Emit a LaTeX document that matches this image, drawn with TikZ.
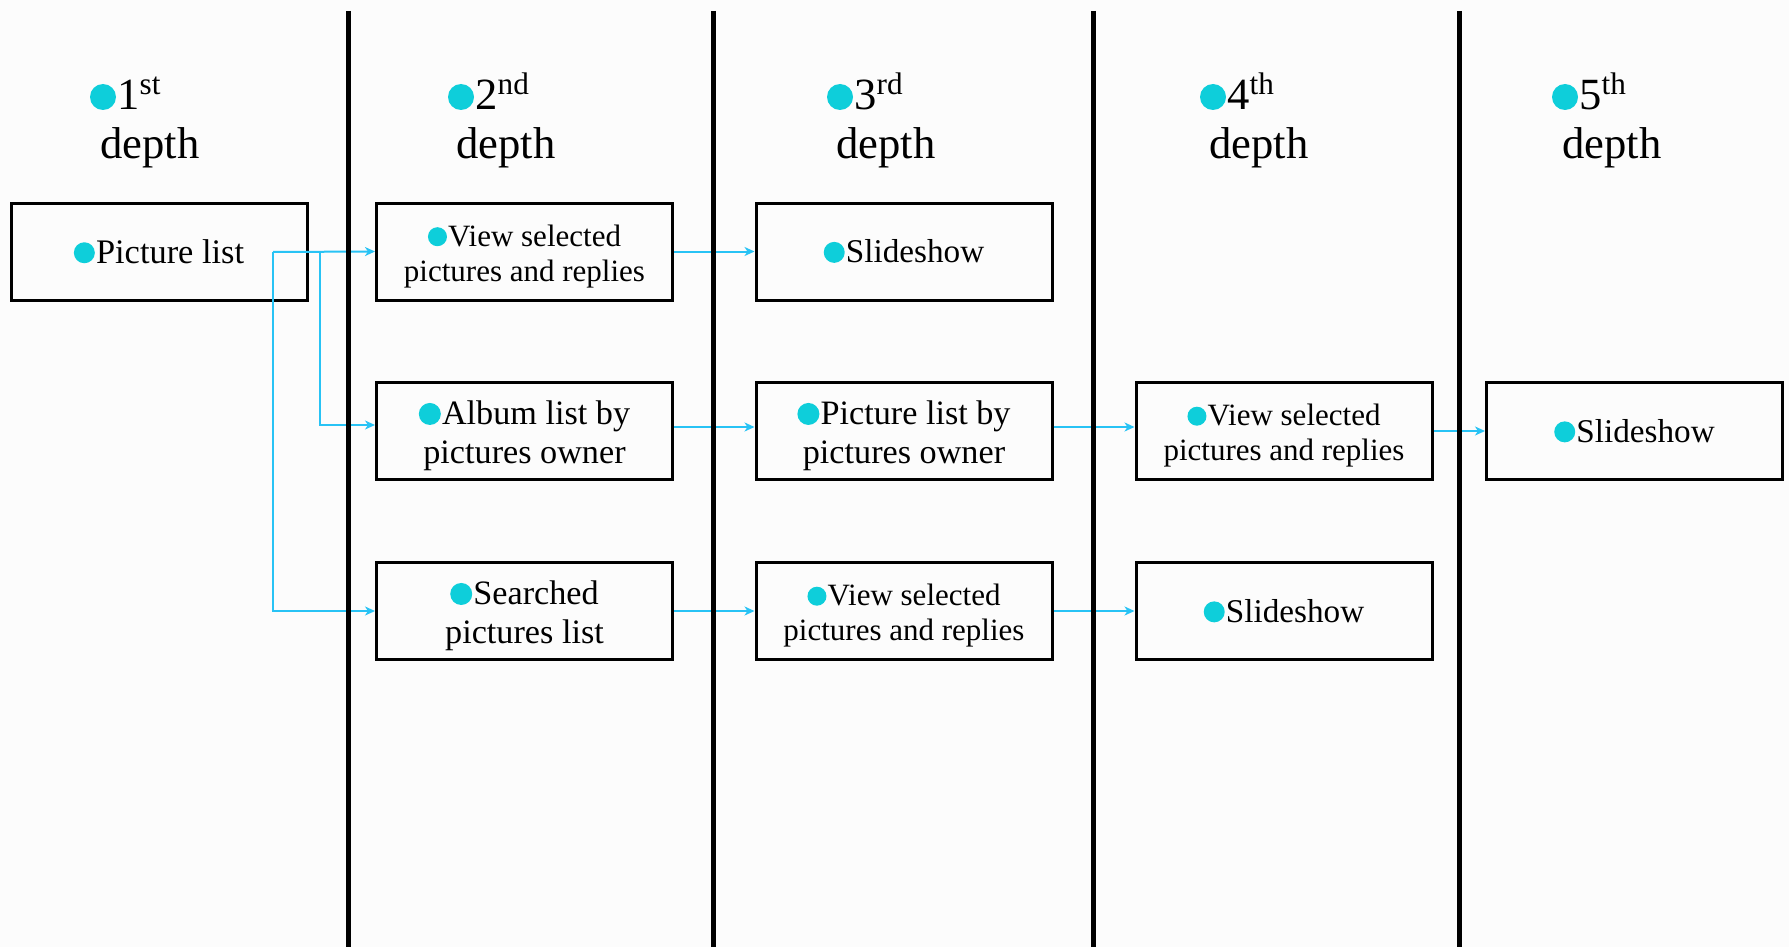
\documentclass[tikz,border=0pt]{standalone}
\usepackage{fontspec}
\setmainfont{Liberation Serif}
\usetikzlibrary{arrows.meta}
\definecolor{bulc}{RGB}{14,206,218}
\definecolor{arrc}{RGB}{40,195,245}
\definecolor{bgc}{RGB}{252,252,252}
\newcommand{\bul}[1]{\tikz[baseline=0pt]\fill[bulc](0pt,#1)circle[radius=#1];\hspace{0.6pt}}
\newcommand{\tstrut}{\rule{0pt}{1em}}
\begin{document}
\begin{tikzpicture}[x=0.5pt,y=-0.5pt,
  box/.style={draw=black,line width=1.5pt,minimum width=148pt,minimum height=48.5pt,align=center,inner sep=0pt},
  sm/.style={font=\fontsize{15.5}{17.5}\selectfont},
  bg/.style={font=\fontsize{17.1}{19.5}\selectfont},
  md/.style={font=\fontsize{16.6}{19}\selectfont},
  arr/.style={draw=arrc,line width=1pt,-{Stealth[length=5pt,width=4.5pt,inset=1.5pt]}},
  sep/.style={line width=2.5pt,black},
  hd/.style={font=\fontsize{22.3}{26}\selectfont,inner sep=0pt},
  hb/.style={fill=bulc}]
\fill[bgc] (0,0) rectangle (1789,947);
\useasboundingbox (0,0) rectangle (1789,947);

% headers
\foreach \cx/\n/\s/\dx [count=\i] in {103/1/st/100,461/2/nd/456,840/3/rd/836,1213/4/th/1209,1565/5/th/1562}{
  \fill[hb] (\cx,97) circle[radius=6.5pt];
  \node[hd,anchor=base west] (h\i) at (\cx+14,110) {\n\textsuperscript{\s}};
  \node[hd,anchor=base west] (d\i) at (\dx,159) {depth};
}

% boxes
\node[box,font=\fontsize{17.2}{20}\selectfont] (pl) at (159,251.5) {\bul{5.25pt}Picture list};
\node[box,sm] (v1) at (524.5,251.5) {\tstrut\bul{4.75pt}View selected\\pictures and replies};
\node[box,bg] (a2) at (524.5,431) {\tstrut\bul{5.5pt}Album list by\\pictures owner};
\node[box,bg] (s3) at (524.5,611) {\tstrut\bul{5.5pt}Searched\\pictures list};
\node[box,md] (ss1) at (904,251.5) {\bul{5.25pt}Slideshow};
\node[box,bg] (p3) at (904,431) {\tstrut\bul{5.5pt}Picture list by\\pictures owner};
\node[box,sm] (v3) at (904,611) {\tstrut\bul{4.75pt}View selected\\pictures and replies};
\node[box,sm] (v4) at (1284,431) {\tstrut\bul{4.75pt}View selected\\pictures and replies};
\node[box,md] (ss4) at (1284,611) {\bul{5.25pt}Slideshow};
\node[box,md] (ss5) at (1634.5,431) {\bul{5.25pt}Slideshow};

% connectors
\coordinate (j1) at (273,252);
\coordinate (j2) at (320,252);
\draw[arr] (j1) -- (v1.west);
\draw[arr] (j2) |- ([yshift=3pt]a2.west);
\draw[arr] (j1) |- (s3.west);
\draw[arr] (v1.east) -- (ss1.west);
\draw[arr] ([yshift=2pt]a2.east) -- ([yshift=2pt]p3.west);
\draw[arr] (s3.east) -- (v3.west);
\draw[arr] ([yshift=2pt]p3.east) -- ([yshift=2pt]v4.west);
\draw[arr] (v3.east) -- (ss4.west);
\draw[arr] (v4.east) -- (ss5.west);

% separators
\coordinate (t1) at (348,11); \coordinate (b1) at (348,947);
\coordinate (t2) at (713,11); \coordinate (b2) at (713,947);
\coordinate (t3) at (1093,11); \coordinate (b3) at (1093,947);
\coordinate (t4) at (1459,11); \coordinate (b4) at (1459,947);
\draw[sep] (t1) -- (b1);
\draw[sep] (t2) -- (b2);
\draw[sep] (t3) -- (b3);
\draw[sep] (t4) -- (b4);
\end{tikzpicture}
\end{document}
